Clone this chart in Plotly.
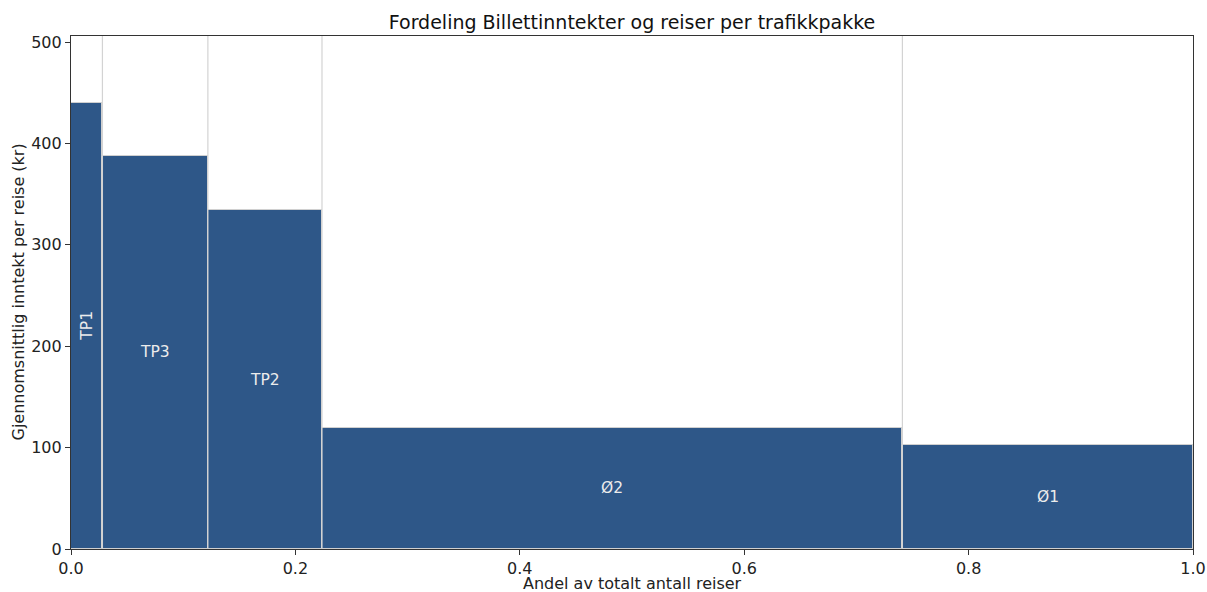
import plotly.graph_objects as go

packages = ["TP1", "TP3", "TP2", "Ø2", "Ø1"]
share_of_trips = [0.028, 0.094, 0.1017, 0.5173, 0.259]
revenue_per_trip = [440, 388, 334, 119.5, 102.5]
label_angles = [-90, 0, 0, 0, 0]

BAR = "#2e5788"
FONT = "DejaVu Sans"

lefts = []
acc = 0.0
for s in share_of_trips:
    lefts.append(acc)
    acc += s
centers = [l + s / 2 for l, s in zip(lefts, share_of_trips)]

fig = go.Figure()
fig.add_trace(go.Bar(
    x=centers, y=revenue_per_trip, width=share_of_trips, base=0,
    marker=dict(color=BAR, line=dict(color="#d0d0d0", width=1)),
    hoverinfo="skip", showlegend=False,
))

shapes = []
for l in lefts[1:]:
    shapes.append(dict(type="line", xref="x", yref="paper", x0=l, x1=l, y0=0, y1=1,
                       line=dict(color="#d3d3d3", width=1.2), layer="above"))

annotations = []
for name, c, v, a in zip(packages, centers, revenue_per_trip, label_angles):
    annotations.append(dict(x=c, y=v / 2, xref="x", yref="y", text=name, showarrow=False,
                            textangle=a, font=dict(family=FONT, size=15.5, color="#ececec")))
annotations.append(dict(x=0.5, y=0, xref="paper", yref="paper", yanchor="middle", yshift=-34,
                        text="Andel av totalt antall reiser", showarrow=False,
                        font=dict(family=FONT, size=16, color="#222")))
annotations.append(dict(x=0, y=0.5, xref="paper", yref="paper", xanchor="center", xshift=-53,
                        textangle=-90, text="Gjennomsnittlig inntekt per reise (kr)", showarrow=False,
                        font=dict(family=FONT, size=16, color="#222")))

fig.update_layout(
    width=1207, height=592,
    margin=dict(l=71, r=14, t=36, b=43, autoexpand=False),
    paper_bgcolor="white", plot_bgcolor="white",
    font=dict(family=FONT, size=16, color="#222"),
    title=dict(text="Fordeling Billettinntekter og reiser per trafikkpakke",
               x=0.5, xref="paper", xanchor="center", y=1 - 22 / 592, yanchor="middle",
               font=dict(family=FONT, size=19, color="#111")),
    bargap=0,
    shapes=shapes,
    annotations=annotations,
    xaxis=dict(range=[0, 1], tickvals=[0, 0.2, 0.4, 0.6, 0.8, 1.0],
               ticktext=["0.0", "0.2", "0.4", "0.6", "0.8", "1.0"],
               automargin=False, tickfont=dict(size=16),
               showgrid=False, zeroline=False, showline=True, linecolor="#333", linewidth=1.2,
               mirror=True, ticks="outside", ticklen=5, tickcolor="#333"),
    yaxis=dict(range=[0, 506], tickvals=[0, 100, 200, 300, 400, 500],
               automargin=False, tickfont=dict(size=16),
               showgrid=False, zeroline=False, showline=True, linecolor="#333", linewidth=1.2,
               mirror=True, ticks="outside", ticklen=5, tickcolor="#333"),
)

# remove the default 8px page margin so the figure fills the 1207x592 window exactly
fig.write_html("out.html", config={"displayModeBar": False},
               post_script="document.body.style.margin='0';")
